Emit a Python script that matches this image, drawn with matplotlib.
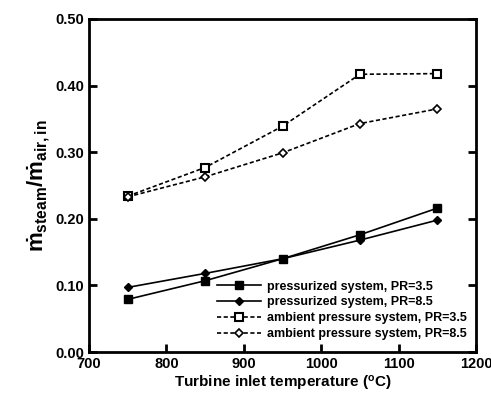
import matplotlib
matplotlib.use('Agg')
import matplotlib.pyplot as plt

plt.rcParams.update({'font.family': 'Liberation Sans', 'font.weight': 'bold',
                     'mathtext.fontset': 'custom',
                     'mathtext.rm': 'Liberation Sans:bold',
                     'mathtext.it': 'Liberation Sans:bold',
                     'mathtext.bf': 'Liberation Sans:bold'})

temp = [750, 850, 950, 1050, 1150]
press_35 = [0.079, 0.107, 0.140, 0.176, 0.216]
press_85 = [0.097, 0.118, 0.140, 0.168, 0.198]
amb_35 = [0.234, 0.277, 0.339, 0.417, 0.418]
amb_85 = [0.233, 0.263, 0.299, 0.343, 0.365]

fig = plt.figure(figsize=(4.91, 3.98), dpi=100)
ax = fig.add_axes([89/491, 46/398, 387/491, 333/398])

ax.plot(temp, press_35, '-', color='black', lw=1.2, marker='s', ms=5.5,
        label='pressurized system, PR=3.5')
ax.plot(temp, press_85, '-', color='black', lw=1.2, marker='D', ms=4,
        label='pressurized system, PR=8.5')
ax.plot(temp, amb_35, '--', color='black', lw=1.2, marker='s', ms=5.5, mfc='white',
        mew=1.5, dashes=(2.5, 1.5), label='ambient pressure system, PR=3.5')
ax.plot(temp, amb_85, '--', color='black', lw=1.2, marker='D', ms=4, mfc='white',
        mew=1.2, dashes=(2.5, 1.5), label='ambient pressure system, PR=8.5')

ax.set_xlim(700, 1200)
ax.set_ylim(0, 0.5)
ax.set_xticks([700, 800, 900, 1000, 1100, 1200])
ax.set_yticks([0, 0.1, 0.2, 0.3, 0.4, 0.5])
ax.set_yticklabels(['0.00', '0.10', '0.20', '0.30', '0.40', '0.50'])
ax.tick_params(direction='in', length=6, width=2, right=True, labelsize=10.5)
for s in ax.spines.values():
    s.set_linewidth(2)

ax.set_xlabel('Turbine inlet temperature ($^{o}$C)', fontsize=11, fontweight='bold', labelpad=2)
ax.set_ylabel(r'$\dot{m}_{steam}/\dot{m}_{air,in}$', fontsize=16, labelpad=2)

ax.legend(loc='lower right', bbox_to_anchor=(1.0, 0.01), frameon=False,
          prop={'size': 9, 'weight': 'bold'}, handlelength=3.5, labelspacing=0.3,
          handletextpad=0.5, borderaxespad=0.3)

fig.savefig('out.png', dpi=100)
